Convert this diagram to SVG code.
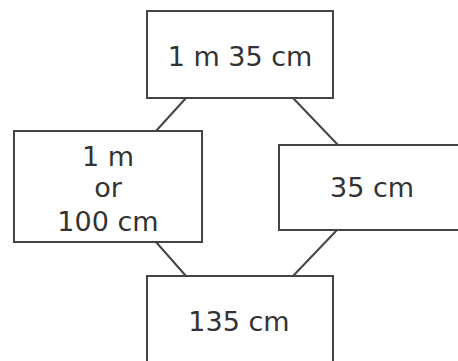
<svg xmlns="http://www.w3.org/2000/svg" width="458" height="361" viewBox="0 0 458 361">
<style>
.box{fill:#fff;stroke:#444;stroke-width:2}
.ln{stroke:#444;stroke-width:2;fill:none}
text{font-family:"DejaVu Sans",sans-serif;font-size:27px;fill:#333;text-anchor:middle}
</style>
<rect width="458" height="361" fill="#fff"/>
<g id="connectors">
<line class="ln" x1="186" y1="98" x2="156" y2="131"/>
<line class="ln" x1="293" y1="98" x2="338" y2="145"/>
<line class="ln" x1="156" y1="242" x2="186" y2="276"/>
<line class="ln" x1="337" y1="230" x2="293" y2="276"/>
</g>
<g id="top">
<rect class="box" x="147" y="11" width="186" height="87"/>
<text x="240" y="66">1 m 35 cm</text>
</g>
<g id="left">
<rect class="box" x="14" y="131" width="188" height="111"/>
<text x="108" y="166">1 m</text>
<text x="108" y="197">or</text>
<text x="108" y="231">100 cm</text>
</g>
<g id="right">
<rect class="box" x="279" y="145" width="185" height="85"/>
<text x="372" y="197">35 cm</text>
</g>
<g id="bottom">
<rect class="box" x="147" y="276" width="186" height="95"/>
<text x="239" y="331">135 cm</text>
</g>
</svg>
